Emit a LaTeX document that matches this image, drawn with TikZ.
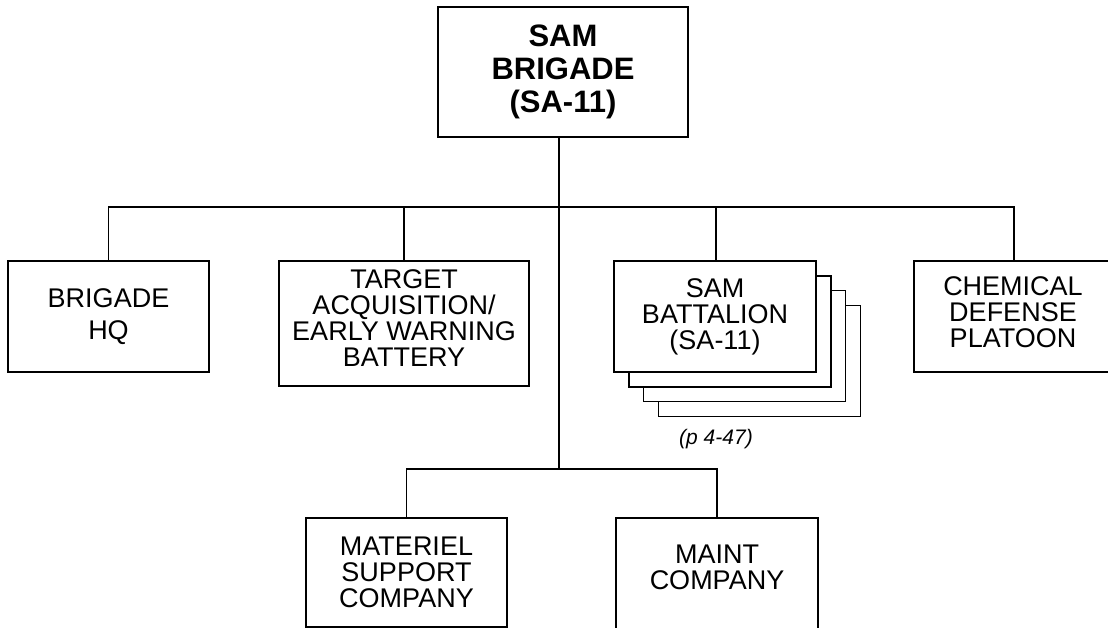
\documentclass[tikz,border=0pt]{standalone}
\usepackage{fontspec}
\setmainfont{Liberation Sans}
\begin{document}
\begin{tikzpicture}[x=1pt,y=-1pt,
  ln/.style={line width=1.4pt, line join=miter},
  box/.style={ln, draw=black, fill=white, rectangle, inner sep=0pt, align=center,
              font=\fontsize{27}{26}\selectfont},
  txt/.style={inner sep=0pt, align=center, font=\fontsize{27}{26}\selectfont}]
\useasboundingbox (0,0) rectangle (1108,628);
\clip (0,0) rectangle (1108,628);
% top
\node[box, minimum width=250pt, minimum height=130pt, font=\fontsize{31}{33}\selectfont\bfseries]
  (top) at (563,72) {SAM\\BRIGADE\\(SA-11)};
% row 1
\node[box, minimum width=201pt, minimum height=111pt, font=\fontsize{27}{32}\selectfont]
  (hq) at (108.5,316.5) {BRIGADE\\HQ};
\node[box, minimum width=250pt, minimum height=125pt]
  (ta) at (404,323.5) {};
\node[txt] (tatext) at (404,318.5) {TARGET\\ACQUISITION/\\EARLY WARNING\\BATTERY};
% stacked battalions
\node[box, minimum width=202pt, minimum height=111pt] (bn4) at (759.5,361) {};
\node[box, minimum width=202pt, minimum height=111pt] (bn3) at (744.5,346) {};
\node[box, minimum width=202pt, minimum height=111pt] (bn2) at (730,331.5) {};
\node[box, minimum width=202pt, minimum height=111pt] (bn) at (715,316.5) {SAM\\BATTALION\\(SA-11)};
\node[inner sep=0pt, font=\fontsize{21}{24}\selectfont\itshape] (ref) at (716,439) {(p 4-47)};
\node[box, minimum width=200pt, minimum height=111pt] (chem) at (1014,316.5) {};
\node[txt] (chemtext) at (1013,312) {CHEMICAL\\DEFENSE\\PLATOON};
% row 2
\node[box, minimum width=201pt, minimum height=109pt]
  (mat) at (406.5,572.5) {MATERIEL\\SUPPORT\\COMPANY};
\node[box, minimum width=202pt, minimum height=130pt] (maint) at (717,583) {};
\node[txt] (mainttext) at (717,567) {MAINT\\COMPANY};
% connectors
\coordinate (j1) at (559,207);
\coordinate (j2) at (559,469);
\draw[ln] (top.south -| j1) -- (j2);
\draw[ln] (hq.north) |- (j1) -| (chem.north);
\draw[ln] (ta.north) -- (ta.north |- j1);
\draw[ln] (716,207) -- (716,261);
\draw[ln] (mat.north) |- (j2) -| (maint.north);
\end{tikzpicture}
\end{document}
